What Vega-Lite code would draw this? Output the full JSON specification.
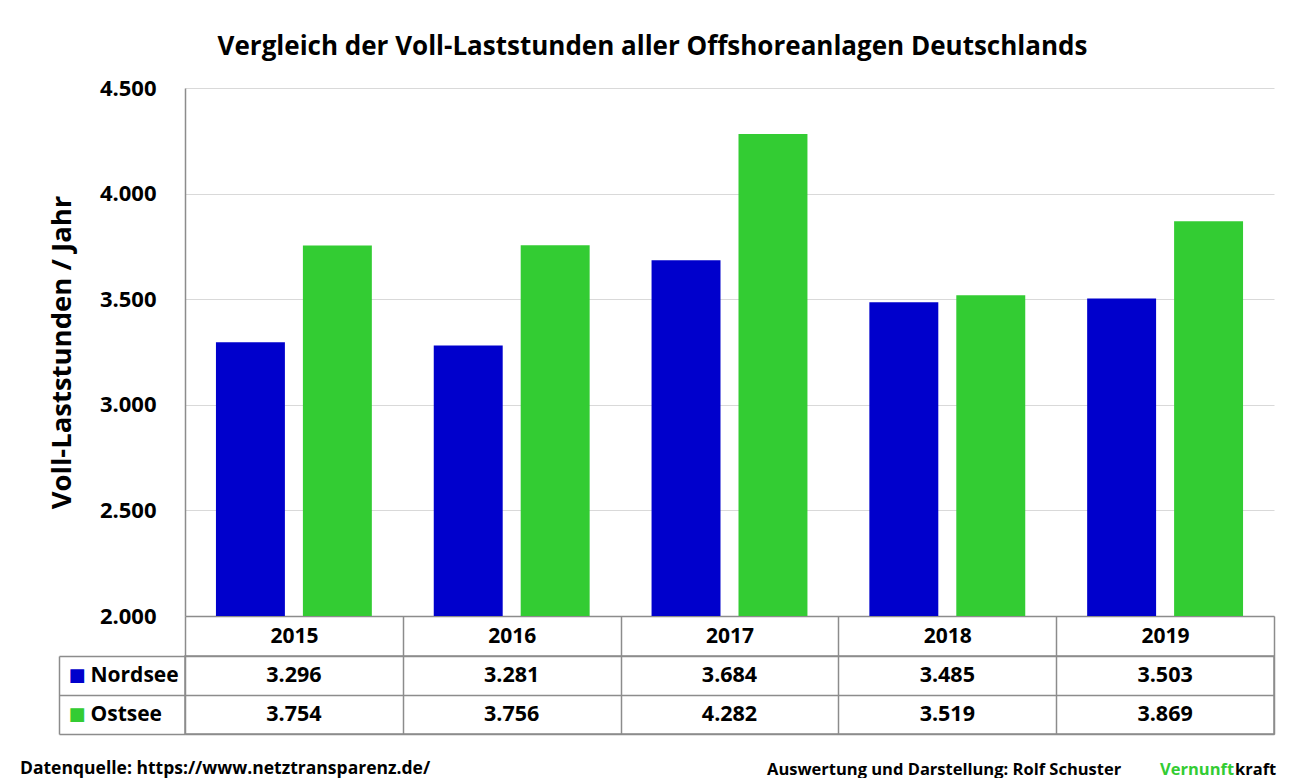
{
  "$schema": "https://vega.github.io/schema/vega-lite/v6.json",
  "background": "white",
  "padding": {"left": 20, "top": 34, "right": 0, "bottom": 0},
  "title": {
    "text": "Vergleich der Voll-Laststunden aller Offshoreanlagen Deutschlands",
    "anchor": "middle",
    "frame": "bounds",
    "font": "Open Sans",
    "fontSize": 26,
    "fontWeight": "bold",
    "color": "#000000",
    "offset": 17
  },
  "datasets": {
    "lst": [
      {"year": "2015", "series": "Nordsee", "value": 3296},
      {"year": "2015", "series": "Ostsee", "value": 3754},
      {"year": "2016", "series": "Nordsee", "value": 3281},
      {"year": "2016", "series": "Ostsee", "value": 3756},
      {"year": "2017", "series": "Nordsee", "value": 3684},
      {"year": "2017", "series": "Ostsee", "value": 4282},
      {"year": "2018", "series": "Nordsee", "value": 3485},
      {"year": "2018", "series": "Ostsee", "value": 3519},
      {"year": "2019", "series": "Nordsee", "value": 3503},
      {"year": "2019", "series": "Ostsee", "value": 3869}
    ]
  },
  "spacing": 40,
  "bounds": "flush",
  "vconcat": [
    {
      "width": 1089,
      "height": 528,
      "data": {"name": "lst"},
      "mark": {"type": "bar"},
      "encoding": {
        "x": {
          "field": "year", "type": "nominal",
          "scale": {"paddingInner": 0, "paddingOuter": 0},
          "axis": {
            "title": null, "labelAngle": 0, "grid": false,
            "labelFont": "Open Sans", "labelFontSize": 21, "labelFontWeight": "bold", "labelColor": "#000000",
            "tickBand": "extent", "tickSize": 40, "tickColor": "#8c8c8c", "tickWidth": 1.5,
            "domainColor": "#8c8c8c", "domainWidth": 1.5,
            "labelBaseline": "middle", "labelPadding": -20
          }
        },
        "xOffset": {
          "field": "series", "type": "nominal",
          "scale": {"paddingInner": 0.207, "paddingOuter": 0.356}
        },
        "y": {
          "field": "value", "type": "quantitative",
          "scale": {"domain": [2000, 4500], "nice": false, "zero": false, "clamp": true},
          "axis": {
            "title": "Voll-Laststunden / Jahr",
            "titleFont": "Open Sans", "titleFontSize": 27.5, "titleFontWeight": "bold", "titleColor": "#000000",
            "titlePadding": 23,
            "format": ",d", "tickCount": 5,
            "labelFont": "Open Sans", "labelFontSize": 22, "labelFontWeight": "bold", "labelColor": "#000000",
            "labelPadding": 29, "ticks": false,
            "domainColor": "#8c8c8c", "domainWidth": 1.5,
            "grid": true, "gridColor": "#d9d9d9", "gridWidth": 1.2
          }
        },
        "color": {
          "field": "series", "type": "nominal",
          "scale": {"domain": ["Nordsee", "Ostsee"], "range": ["#0000CC", "#33CC33"]},
          "legend": null
        }
      }
    },
    {
      "width": 1089,
      "height": 78,
      "data": {"name": "lst"},
      "view": {"stroke": "#8c8c8c", "strokeWidth": 1.5},
      "layer": [
        {
          "mark": {"type": "text", "font": "Open Sans", "fontSize": 21.5, "fontWeight": "bold", "color": "#000000"},
          "encoding": {
            "x": {
              "field": "year", "type": "nominal",
              "scale": {"paddingInner": 0, "paddingOuter": 0},
              "axis": {"title": null, "labels": false, "ticks": false, "domain": false, "grid": true, "tickBand": "extent", "gridColor": "#8c8c8c", "gridWidth": 1.5}
            },
            "y": {
              "field": "series", "type": "nominal",
              "scale": {"paddingInner": 0, "paddingOuter": 0},
              "axis": {
                "title": null, "orient": "left", "domain": false,
                "grid": true, "gridColor": "#8c8c8c", "gridWidth": 1.5, "tickBand": "extent",
                "ticks": true, "tickSize": 126, "tickColor": "#8c8c8c", "tickWidth": 1.5,
                "labelAlign": "left", "labelPadding": -31,
                "labelFont": "Open Sans", "labelFontSize": 21, "labelFontWeight": "bold", "labelColor": "#000000"
              }
            },
            "text": {"field": "value", "type": "quantitative", "format": ",d"}
          }
        },
        {
          "mark": {"type": "text", "opacity": 0},
          "encoding": {
            "y": {
              "field": "series", "type": "nominal",
              "axis": {
                "title": null, "orient": "left", "offset": 126,
                "grid": false, "ticks": false,
                "domain": true, "domainColor": "#8c8c8c", "domainWidth": 1.5,
                "labelExpr": "'■'", "labelAlign": "left", "labelPadding": -9,
                "labelFont": "DejaVu Sans", "labelFontSize": 18,
                "labelColor": {"condition": {"test": "datum.value === 'Nordsee'", "value": "#0000CC"}, "value": "#33CC33"}
              }
            },
            "text": {"field": "series"}
          }
        }
      ],
      "resolve": {"axis": {"y": "independent"}}
    },
    {
      "spacing": 0,
      "bounds": "flush",
      "hconcat": [
        {
          "width": 582, "height": 4,
          "data": {"values": []},
          "mark": "text",
          "encoding": {},
          "title": {"text": "Datenquelle: https://www.netztransparenz.de/", "orient": "top", "anchor": "start", "frame": "group", "align": "left", "baseline": "alphabetic", "dx": -165, "offset": -17, "font": "Open Sans", "fontSize": 17.5, "fontWeight": "bold", "color": "#000000"}
        },
        {
          "width": 393, "height": 4,
          "data": {"values": []},
          "mark": "text",
          "encoding": {},
          "title": {"text": "Auswertung und Darstellung: Rolf Schuster", "orient": "top", "anchor": "start", "frame": "group", "align": "left", "baseline": "alphabetic", "offset": -17, "font": "Open Sans", "fontSize": 16.5, "fontWeight": "bold", "color": "#000000"}
        },
        {
          "width": 75, "height": 4,
          "data": {"values": []},
          "mark": "text",
          "encoding": {},
          "title": {"text": "Vernunft", "orient": "top", "anchor": "start", "frame": "group", "align": "left", "baseline": "alphabetic", "offset": -17, "font": "Open Sans", "fontSize": 16.5, "fontWeight": "bold", "color": "#33CC33"}
        },
        {
          "width": 50, "height": 4,
          "data": {"values": []},
          "mark": "text",
          "encoding": {},
          "title": {"text": "kraft", "orient": "top", "anchor": "start", "frame": "group", "align": "left", "baseline": "alphabetic", "offset": -17, "font": "Open Sans", "fontSize": 16.5, "fontWeight": "bold", "color": "#000000"}
        }
      ]
    }
  ],
  "config": {
    "view": {"stroke": null},
    "font": "Open Sans",
    "locale": {"number": {"decimal": ",", "thousands": ".", "grouping": [3], "currency": ["", " €"]}}
  }
}
